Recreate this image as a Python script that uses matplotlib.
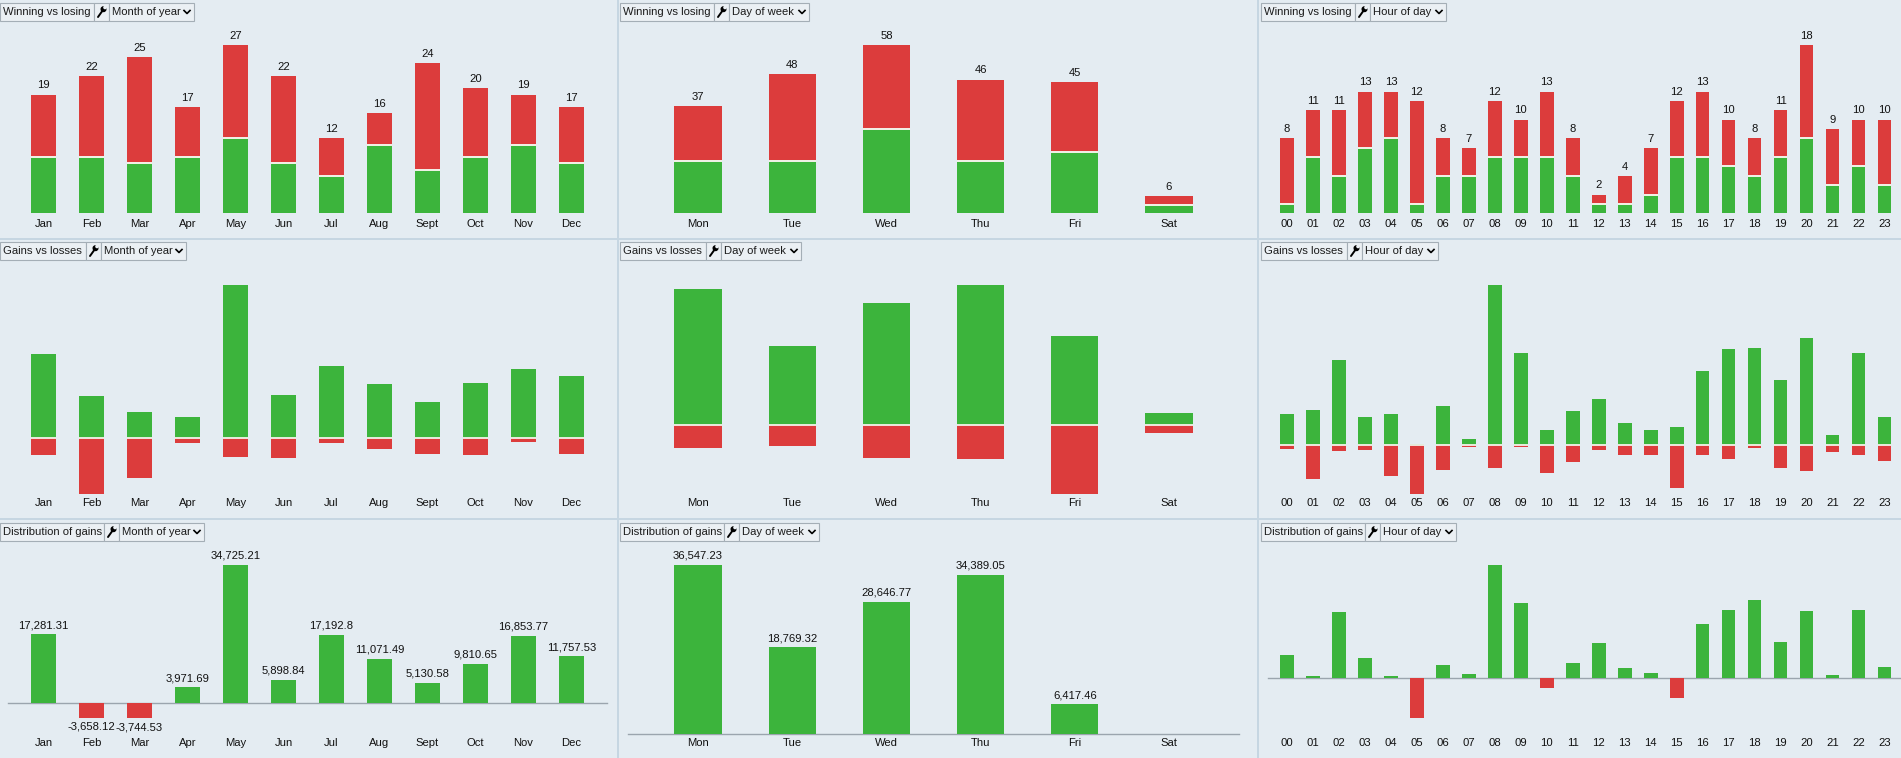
import matplotlib
matplotlib.use('Agg')
import matplotlib.pyplot as plt
import matplotlib.transforms as mtransforms
from matplotlib.patches import Rectangle, Circle
import numpy as np

plt.rcParams['font.family'] = ['Liberation Sans', 'DejaVu Sans']

# ---- data ----
months = ['Jan', 'Feb', 'Mar', 'Apr', 'May', 'Jun', 'Jul', 'Aug', 'Sept', 'Oct', 'Nov', 'Dec']
days = ['Mon', 'Tue', 'Wed', 'Thu', 'Fri', 'Sat']
hours = ['00', '01', '02', '03', '04', '05', '06', '07', '08', '09', '10', '11',
         '12', '13', '14', '15', '16', '17', '18', '19', '20', '21', '22', '23']

# winning / losing trade counts
month_win = [9, 9, 8, 9, 12, 8, 6, 11, 7, 9, 11, 8]
month_lose = [10, 13, 17, 8, 15, 14, 6, 5, 17, 11, 8, 9]
day_win = [18, 18, 29, 18, 21, 3]
day_lose = [19, 30, 29, 28, 24, 3]
hour_win = [1, 6, 4, 7, 8, 1, 4, 4, 6, 6, 6, 4, 1, 1, 2, 6, 6, 5, 4, 6, 8, 3, 5, 3]
hour_lose = [7, 5, 7, 6, 5, 11, 4, 3, 6, 4, 7, 4, 1, 3, 5, 6, 7, 5, 4, 5, 10, 6, 5, 7]

# gross gains / losses (estimated, no labels in the chart)
month_gain = [21690, 10800, 6650, 5360, 39660, 11060, 18580, 13910, 9250, 14170, 17800, 15990]
month_loss = [4410, 14460, 10390, 1390, 4930, 5160, 1390, 2840, 4120, 4360, 950, 4230]
day_gain = [43740, 25600, 39310, 45140, 28510, 3890]
day_loss = [7190, 6830, 10660, 10750, 22090, 2380]
hour_gain = [4585, 5177, 12572, 4141, 4585, 148, 5768, 887, 23565, 13607, 2219, 5029,
             6803, 3254, 2219, 2662, 10945, 14198, 14346, 9614, 15677, 1479, 13607, 4141]
hour_loss = [493, 4930, 789, 641, 4486, 7149, 3599, 197, 3303, 197, 4043, 2416,
             641, 1380, 1380, 6261, 1380, 1972, 345, 3303, 3747, 937, 1380, 2268]

# net gains
month_net = [17281.31, -3658.12, -3744.53, 3971.69, 34725.21, 5898.84, 17192.8,
             11071.49, 5130.58, 9810.65, 16853.77, 11757.53]
day_net = [36547.23, 18769.32, 28646.77, 34389.05, 6417.46, np.nan]
hour_net = [4172, 417, 11860, 3636, 417, -7033, 2384, 775, 20264, 13470, -1728, 2742,
            6318, 1848, 954, -3516, 9715, 12218, 14006, 6496, 12039, 596, 12218, 2026]

# ---- style ----
GREEN = '#3cb43c'
RED = '#dc3c3c'
GAP = '#f3f3ea'
PANEL = '#e4ecf2'
BORDER = '#c6d6e2'
BOX = '#ebf0f4'
BOX_EDGE = '#a4aeb6'
ZERO = '#9ba5ae'
FS = 8.1
W, H = 1901, 758

fig = plt.figure(figsize=(W / 100, H / 100), dpi=100, facecolor=BORDER)

bg = fig.add_axes([0, 0, 1, 1], zorder=-1)
bg.set_xlim(0, W)
bg.set_ylim(H, 0)
bg.axis('off')

cols = [(0, 617), (619, 1257), (1259, 1901)]
rows = [(0, 238), (240, 518), (520, 758)]
for c0, c1 in cols:
    for r0, r1 in rows:
        bg.add_patch(Rectangle((c0, r0), c1 - c0, r1 - r0, facecolor=PANEL, edgecolor='none'))


def header(x0, y0, title, w_title, w_icon, choice, w_choice):
    h = 18
    yc = y0 + h / 2
    bg.add_patch(Rectangle((x0, y0), w_title, h, facecolor=BOX, edgecolor=BOX_EDGE, lw=0.8))
    bg.text(x0 + 3, yc, title, fontsize=FS, va='center', ha='left', color='#1b1b1b')
    xi = x0 + w_title
    bg.add_patch(Rectangle((xi, y0), w_icon, h, facecolor=BOX, edgecolor=BOX_EDGE, lw=0.8))
    # little wrench glyph
    bg.plot([xi + 4, xi + 9], [yc + 5, yc - 2], color='black', lw=1.4, solid_capstyle='round')
    bg.add_patch(Circle((xi + 9.5, yc - 2.8), 2.3, color='black'))
    bg.add_patch(Circle((xi + 11, yc - 4.5), 1.1, color=BOX))
    xc = xi + w_icon
    bg.add_patch(Rectangle((xc, y0), w_choice, h, facecolor=BOX, edgecolor=BOX_EDGE, lw=0.8))
    bg.text(xc + 3, yc, choice, fontsize=FS, va='center', ha='left', color='#1b1b1b')
    xr = xc + w_choice
    bg.plot([xr - 10, xr - 7, xr - 4], [yc - 1.5, yc + 1.5, yc - 1.5], color='black', lw=1.2)


choices = [('Month of year', 85), ('Day of week', 80), ('Hour of day', 76)]
titles = [('Winning vs losing', 94), ('Gains vs losses', 86), ('Distribution of gains', 104)]
head_x = [0, 620, 1261]
head_y = [3, 242, 523]
for r, (title, wt) in enumerate(titles):
    for c, (choice, wc) in enumerate(choices):
        header(head_x[c], head_y[r], title, wt, 15, choice, wc)


def px_axes(x0, x1, y0, y1):
    ax = fig.add_axes([x0 / W, 1 - y1 / H, (x1 - x0) / W, (y1 - y0) / H])
    ax.set_facecolor('none')
    ax.axis('off')
    return ax


def tick_labels(ax, labels, y_px):
    tr = mtransforms.blended_transform_factory(ax.transData, fig.transFigure)
    for i, lab in enumerate(labels):
        ax.text(i, 1 - y_px / H, lab, transform=tr, ha='center', va='center',
                fontsize=FS, color='#111111', clip_on=False)


def fmt(v):
    s = f'{v:,.2f}'
    return s.rstrip('0').rstrip('.')


# x geometry for each column: (axes left, axes right, xlim, bar width)
xgeo = [(8, 607, (-0.74, 11.74), 0.51),
        (628, 1239, (-0.743, 5.743), 0.5),
        (1268, 1901, (-0.73, 23.63), 0.52)]
cats = [months, days, hours]

# ---- row 1: winning vs losing ----
for c, (wins, loses) in enumerate([(month_win, month_lose), (day_win, day_lose), (hour_win, hour_lose)]):
    x0, x1, xl, w = xgeo[c]
    ax = px_axes(x0, x1, 44.7, 213.3)
    x = np.arange(len(wins))
    wins = np.array(wins)
    tot = wins + np.array(loses)
    ax.bar(x, wins, w, color=GREEN, lw=0)
    ax.bar(x, loses, w, bottom=wins, color=RED, lw=0)
    ax.hlines(wins, x - w / 2, x + w / 2, color=GAP, lw=1.4)
    for xi, t in zip(x, tot):
        ax.annotate(str(t), (xi, t), xytext=(0, 3), textcoords='offset points',
                    ha='center', va='bottom', fontsize=FS, color='#111111', annotation_clip=False)
    ax.set_xlim(*xl)
    ax.set_ylim(0, tot.max())
    tick_labels(ax, cats[c], 223.5)

# ---- row 2: gains vs losses ----
for c, (gains, losses) in enumerate([(month_gain, month_loss), (day_gain, day_loss), (hour_gain, hour_loss)]):
    x0, x1, xl, w = xgeo[c]
    ax = px_axes(x0, x1, 284.7, 494)
    x = np.arange(len(gains))
    ax.bar(x, gains, w, color=GREEN, lw=0)
    ax.bar(x, -np.array(losses), w, color=RED, lw=0)
    ax.hlines(np.zeros(len(x)), x - w / 2, x + w / 2, color=GAP, lw=1.3)
    ax.set_xlim(*xl)
    ax.set_ylim(-max(losses), max(gains))
    tick_labels(ax, cats[c], 503)

# ---- row 3: distribution of gains ----
bottoms = [718, 734, 717.7]
label_nets = [True, True, False]
for c, net in enumerate([month_net, day_net, hour_net]):
    x0, x1, xl, w = xgeo[c]
    ax = px_axes(x0, x1, 565, bottoms[c])
    net = np.array(net, dtype=float)
    x = np.arange(len(net))
    ok = ~np.isnan(net)
    ax.axhline(0, color=ZERO, lw=1, zorder=1, clip_on=False)
    ax.bar(x[ok], net[ok], w, color=[GREEN if v >= 0 else RED for v in net[ok]], lw=0, zorder=2)
    if label_nets[c]:
        for xi, v in zip(x[ok], net[ok]):
            if v >= 0:
                ax.annotate(fmt(v), (xi, v), xytext=(0, 3), textcoords='offset points',
                            ha='center', va='bottom', fontsize=FS, color='#111111', annotation_clip=False)
            else:
                ax.annotate(fmt(v), (xi, v), xytext=(0, -3), textcoords='offset points',
                            ha='center', va='top', fontsize=FS, color='#111111', annotation_clip=False)
    ax.set_xlim(*xl)
    ax.set_ylim(min(0, np.nanmin(net)), np.nanmax(net))
    tick_labels(ax, cats[c], 743)

fig.savefig('out.png', dpi=100, facecolor=fig.get_facecolor())
